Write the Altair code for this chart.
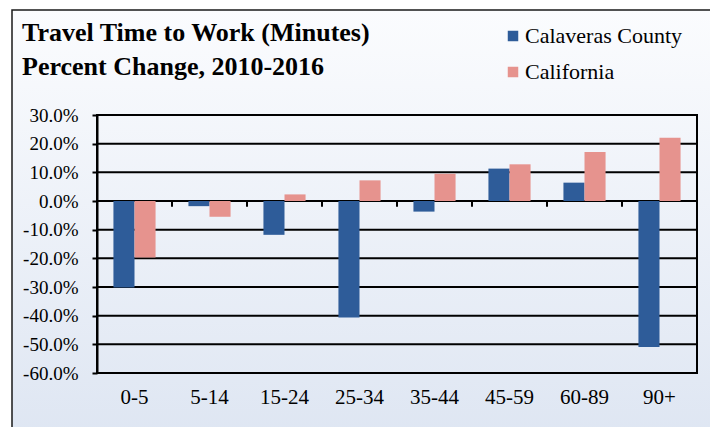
import altair as alt
import pandas as pd

categories = ["0-5", "5-14", "15-24", "25-34", "35-44", "45-59", "60-89", "90+"]
calaveras = [-30.2, -1.8, -11.8, -40.6, -3.7, 11.3, 6.4, -50.9]
california = [-19.7, -5.5, 2.3, 7.2, 9.5, 12.8, 17.1, 22.1]
series_names = ["Calaveras County", "California"]
series_colors = ["#2E5C99", "#E6938E"]
y_ticks = [30, 20, 10, 0, -10, -20, -30, -40, -50, -60]
title_lines = ["Travel Time to Work (Minutes)", "Percent Change, 2010-2016"]

rows = []
for i, c in enumerate(categories):
    rows.append({"band": c, "series": series_names[0], "pct": calaveras[i]})
    rows.append({"band": c, "series": series_names[1], "pct": california[i]})
df = pd.DataFrame(rows)
ticks_df = pd.DataFrame({"v": y_ticks})
cat_df = pd.DataFrame({"band": categories})

serif = "Liberation Serif"
yscale = alt.Scale(domain=[-60, 30], nice=False, zero=False)
xscale = alt.Scale(domain=categories, paddingInner=0, paddingOuter=0)
yaxis = alt.Axis(values=y_ticks,
                 labelExpr="(datum.value < 0 ? '-' : '') + format(abs(datum.value), '.1f') + '%'",
                 title=None, grid=False, domain=True, domainColor="black",
                 domainWidth=2, tickColor="black", tickWidth=2, tickSize=5,
                 labelFont=serif, labelFontSize=19, labelColor="black",
                 labelPadding=14, labelOverlap=False, labelBound=False,
                 labelFlush=False, zindex=1)
xaxis = alt.Axis(title=None, labelAngle=0, ticks=False, domain=False,
                 labelFont=serif, labelFontSize=21, labelColor="black",
                 labelPadding=13, zindex=1, grid=False)

background = alt.Chart(alt.Data(values=[{}])).mark_rect(
    fill=alt.Gradient(
        gradient="linear",
        stops=[alt.GradientStop(color="#fbfcfe", offset=0),
               alt.GradientStop(color="#dde5f2", offset=1)],
        x1=0, x2=0, y1=0, y2=1),
    stroke="#1a1a1a", strokeWidth=1.5
).encode(x=alt.value(-85), x2=alt.value(617), y=alt.value(-105), y2=alt.value(340))

grid = alt.Chart(ticks_df).mark_rule(color="black", strokeWidth=2).encode(
    y=alt.Y("v:Q", scale=yscale, axis=yaxis)
)

frame = alt.Chart(alt.Data(values=[{}])).mark_rect(
    fill=None, stroke="black", strokeWidth=2
).encode(x=alt.value(0), x2=alt.value("width"), y=alt.value(0), y2=alt.value("height"))

zero_ticks = alt.Chart(cat_df).transform_calculate(
    tick_top="0", tick_bottom="-2"
).mark_rule(color="black", strokeWidth=2).encode(
    x=alt.X("band:N", bandPosition=0, scale=xscale, axis=xaxis),
    y=alt.Y("tick_top:Q", scale=yscale, axis=yaxis),
    y2="tick_bottom:Q",
)

bars = alt.Chart(df).mark_bar().encode(
    x=alt.X("band:N", scale=xscale, axis=xaxis),
    xOffset=alt.XOffset("series:N", sort=series_names,
                        scale=alt.Scale(paddingInner=0, paddingOuter=0.78)),
    y=alt.Y("pct:Q", scale=yscale, axis=yaxis),
    color=alt.Color("series:N",
                    scale=alt.Scale(domain=series_names, range=series_colors),
                    legend=alt.Legend(title=None, orient="none", legendX=405, legendY=-90,
                                      symbolType="square", symbolSize=110,
                                      labelFont=serif, labelFontSize=22, labelColor="black",
                                      rowPadding=14, labelOffset=1, symbolStrokeWidth=0,
                                      direction="vertical")),
)

chart = alt.layer(background, grid, frame, bars, zero_ticks).properties(
    width=600, height=258,
    padding={"left": 89, "top": 107, "right": 13, "bottom": 54},
    autosize=alt.AutoSizeParams(type="none"),
    background="white",
    title=alt.TitleParams(text=title_lines, anchor="start", font=serif, fontSize=26,
                          fontWeight="bold", color="black", lineHeight=34,
                          dx=-75, dy=71, offset=0, frame="group"),
).configure(font=serif).configure_view(stroke=None).configure_legend(
    labelFont=serif, labelFontSize=22, labelColor="black"
).configure_axisY(labelFont=serif, labelFontSize=19, labelOverlap=False, labelColor="black")

chart.save("out.html", embed_options={"renderer": "svg", "actions": False})
